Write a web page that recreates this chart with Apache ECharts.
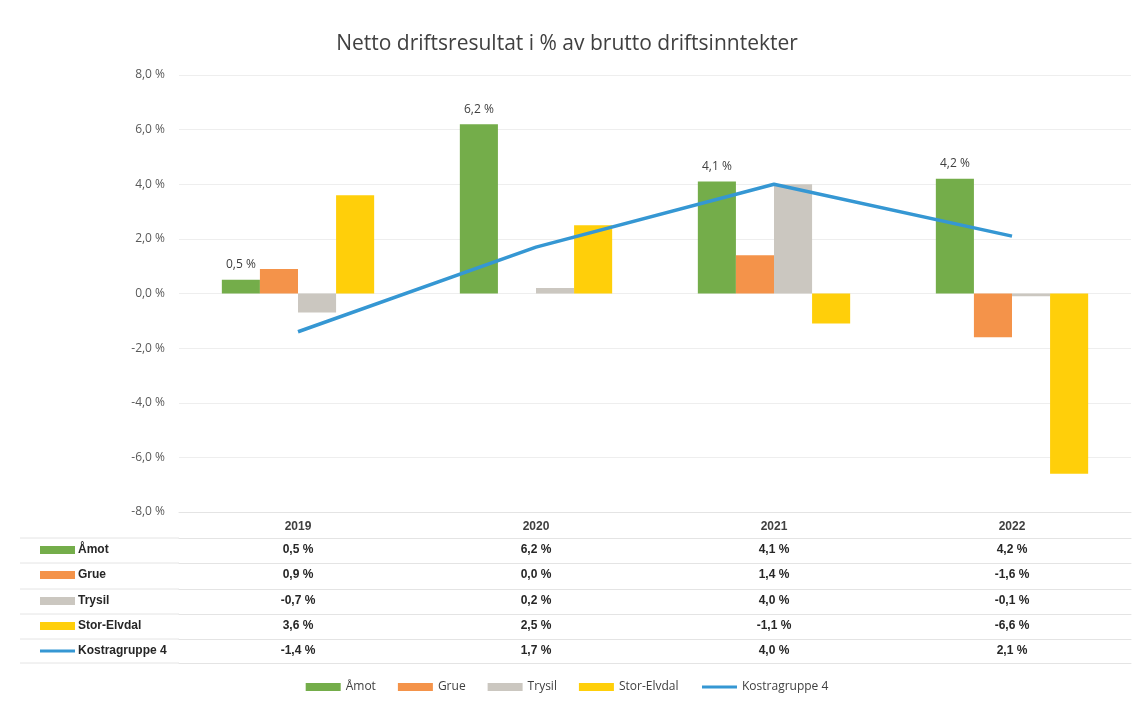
<!DOCTYPE html>
<html>
<head>
<meta charset="utf-8">
<script src="https://cdn.jsdelivr.net/npm/echarts@6/dist/echarts.min.js"></script>
<style>
  html, body { margin: 0; padding: 0; background: #fff; }
  #chart { width: 1134px; height: 706px; }
</style>
</head>
<body>
<div id="chart"></div>
<script>
  var years = ["2019", "2020", "2021", "2022"];
  var amot = [0.5, 6.2, 4.1, 4.2];
  var grue = [0.9, 0.0, 1.4, -1.6];
  var trysil = [-0.7, 0.2, 4.0, -0.1];
  var storElvdal = [3.6, 2.5, -1.1, -6.6];
  var kostra = [-1.4, 1.7, 4.0, 2.1];
  var seriesNames = ["Åmot", "Grue", "Trysil", "Stor-Elvdal", "Kostragruppe 4"];
  var seriesData = [amot, grue, trysil, storElvdal, kostra];
  var colors = ["#74ad4a", "#f4934a", "#cbc7c0", "#ffcf0a", "#3597d3"];

  // layout of the data table under the plot
  var gridBottomY = 512;
  var rowOffsets = [26, 51, 77, 102, 127];
  var tableEnd = 151;
  var lineColor = "#e4e4e4";

  function fmt(v) {
    return v.toFixed(1).replace(".", ",") + " %";
  }

  var chart = echarts.init(document.getElementById("chart"));

  var xAxes = [
    {
      type: "category",
      data: years,
      position: "bottom",
      axisLine: { onZero: false, lineStyle: { color: lineColor } },
      axisTick: { length: 26, lineStyle: { color: lineColor } },
      axisLabel: { margin: 9, color: "#404040", fontSize: 12, fontWeight: "bold", fontFamily: "Liberation Sans" },
    },
  ];
  rowOffsets.forEach(function (off, i) {
    xAxes.push({
      type: "category",
      data: years,
      position: "bottom",
      offset: off,
      axisLine: { onZero: false, lineStyle: { color: lineColor } },
      axisTick: { length: 25, lineStyle: { color: lineColor } },
      axisLabel: {
        margin: 6,
        color: "#262626",
        fontSize: 12,
        fontWeight: "bold",
        fontFamily: "Liberation Sans",
        formatter: function (value, idx) {
          return fmt(seriesData[i][idx]);
        },
      },
    });
  });
  xAxes.push({
    type: "category",
    data: years,
    position: "bottom",
    offset: tableEnd,
    axisLine: { onZero: false, lineStyle: { color: lineColor } },
    axisTick: { show: false },
    axisLabel: { show: false },
  });

  var series = [];
  for (var i = 0; i < 4; i++) {
    series.push({
      name: seriesNames[i],
      type: "bar",
      data: seriesData[i],
      barGap: "0%",
      barCategoryGap: "36%",
      itemStyle: { color: colors[i] },
      label: i === 0 ? {
        show: true,
        position: "top",
        distance: 9,
        color: "#404040",
        fontSize: 12,
        fontFamily: "Open Sans",
        formatter: function (p) { return fmt(p.value); },
      } : { show: false },
    });
  }
  series.push({
    name: seriesNames[4],
    type: "line",
    data: kostra,
    symbol: "none",
    lineStyle: { color: colors[4], width: 3.5 },
    itemStyle: { color: colors[4] },
  });

  // legend keys and names in the table's left column
  var graphics = [];
  rowOffsets.forEach(function (off, i) {
    var cy = gridBottomY + off + 12;
    if (i < 4) {
      graphics.push({ type: "rect", shape: { x: 40, y: cy - 4, width: 35, height: 8 }, style: { fill: colors[i] } });
    } else {
      graphics.push({ type: "line", shape: { x1: 40, y1: cy, x2: 75, y2: cy }, style: { stroke: colors[i], lineWidth: 3 } });
    }
    graphics.push({
      type: "text", x: 78, y: cy,
      style: { text: seriesNames[i], fill: "#262626", font: "bold 12px 'Liberation Sans'", verticalAlign: "middle" },
    });
    graphics.push({ type: "line", shape: { x1: 20, y1: gridBottomY + off, x2: 179, y2: gridBottomY + off }, style: { stroke: lineColor, lineWidth: 1 } });
  });
  graphics.push({ type: "line", shape: { x1: 20, y1: gridBottomY + tableEnd, x2: 179, y2: gridBottomY + tableEnd }, style: { stroke: lineColor, lineWidth: 1 } });

  chart.setOption({
    animation: false,
    title: {
      text: "Netto driftsresultat i % av brutto driftsinntekter",
      left: "center",
      top: 29,
      textStyle: { color: "#404040", fontSize: 21, fontWeight: "normal", fontFamily: "Open Sans" },
    },
    grid: { left: 179, right: 3, top: 75, bottom: 706 - gridBottomY },
    legend: {
      bottom: 8,
      left: "center",
      itemWidth: 35,
      itemHeight: 8,
      itemGap: 22,
      textStyle: { color: "#404040", fontSize: 12, fontFamily: "Open Sans" },
      data: [
        { name: "Åmot", icon: "rect" },
        { name: "Grue", icon: "rect" },
        { name: "Trysil", icon: "rect" },
        { name: "Stor-Elvdal", icon: "rect" },
        { name: "Kostragruppe 4", itemStyle: { opacity: 0 }, lineStyle: { width: 3 } },
      ],
    },
    xAxis: xAxes,
    yAxis: {
      type: "value",
      min: -8,
      max: 8,
      interval: 2,
      axisLine: { show: false },
      axisTick: { show: false },
      splitLine: { lineStyle: { color: "#eeeeee" } },
      axisLabel: {
        margin: 14,
        color: "#595959",
        fontSize: 12,
        fontFamily: "Open Sans",
        formatter: function (v) { return fmt(v); },
      },
    },
    series: series,
    graphic: graphics,
  });
</script>
</body>
</html>
